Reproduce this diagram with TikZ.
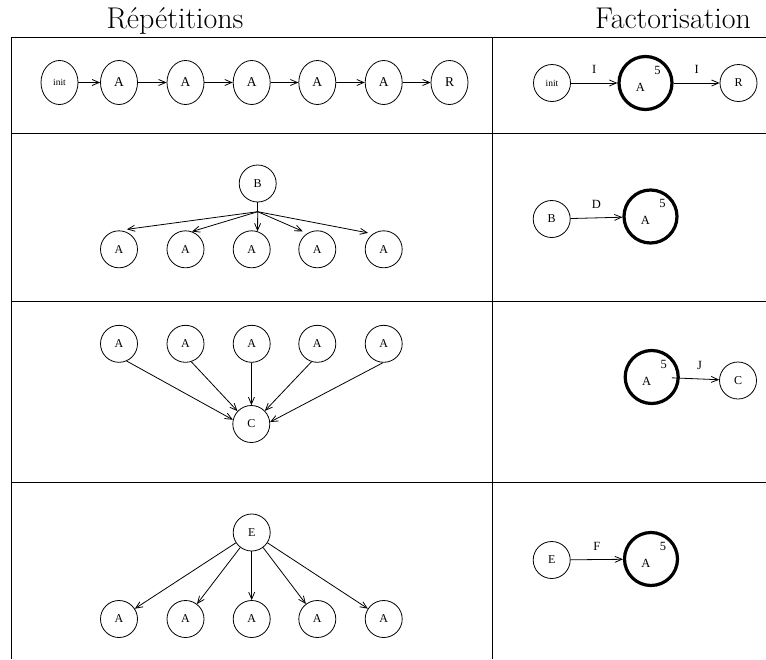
\documentclass[tikz,border=0pt]{standalone}
\usepackage{fontspec}
\usepackage{tikz}
\usetikzlibrary{shapes.geometric, arrows.meta}
\newfontfamily\graphfont{Liberation Serif}

\begin{document}
\begin{tikzpicture}[x=1pt, y=-1pt,
    etat/.style={draw, circle, minimum size=37pt, inner sep=0pt, line width=0.8pt,
                 font=\graphfont\fontsize{12}{12}\selectfont},
    etatl/.style={etat, ellipse, minimum width=37pt, minimum height=44pt,
                  font=\graphfont\fontsize{13.5}{13.5}\selectfont},
    petit/.style={font=\graphfont\fontsize{9.5}{9.5}\selectfont},
    gras/.style={draw, circle, minimum size=53pt, inner sep=0pt, line width=3.2pt},
    lbl/.style={font=\graphfont\fontsize{12.5}{12.5}\selectfont, inner sep=0pt},
    rep/.style={label={[lbl, xshift=-5pt, yshift=-4pt]center:A},
                label={[lbl, xshift=12pt, yshift=13pt]center:#1}},
    etiq/.style={lbl, above=9pt},
    fleche/.style={-{Straight Barb[length=7pt, width=6pt]}, line width=0.8pt},
    titre/.style={anchor=base, font=\fontsize{30}{30}\selectfont},
    cadre/.style={line width=0.9pt}
  ]
    \useasboundingbox (0,0) rectangle (766,659);

    % en-tetes et grille
    \node[titre] (hrep) at (175,28) {Répétitions};
    \node[titre] (hfac) at (673,28) {Factorisation};
    \foreach \y in {37,133,301,482}
      \draw[cadre] (11,\y) -- (766,\y);
    \draw[cadre] (11,37) -- (11,659);
    \draw[cadre] (492,37) -- (492,659);

    % ligne 1 : chaine
    \node[etatl, petit] (init) at (59.5,82.5) {init};
    \node[etatl] (a11) at (119,82.5) {A};
    \node[etatl] (a12) at (185.5,82.5) {A};
    \node[etatl] (a13) at (251.7,82.5) {A};
    \node[etatl] (a14) at (317.3,82.5) {A};
    \node[etatl] (a15) at (383.7,82.5) {A};
    \node[etatl] (r1) at (449.5,82.5) {R};
    \draw[fleche] (init) -- (a11);
    \draw[fleche] (a11) -- (a12);
    \draw[fleche] (a12) -- (a13);
    \draw[fleche] (a13) -- (a14);
    \draw[fleche] (a14) -- (a15);
    \draw[fleche] (a15) -- (r1);

    \node[etat, petit] (finit) at (552,83) {init};
    \node[gras, rep=5] (fa1) at (645.5,83) {};
    \node[etat] (fr1) at (738.5,83) {R};
    \draw[fleche] (finit) -- node[etiq] {I} (fa1);
    \draw[fleche] (fa1) -- node[etiq] {I} (fr1);

    % ligne 2 : B vers les A
    \node[etat] (b2) at (257.7,183.5) {B};
    \coordinate (fk) at (257.7,211.7);
    \node[etat] (a21) at (119,249.3) {A};
    \node[etat] (a22) at (185.5,249.3) {A};
    \node[etat] (a23) at (251.7,249.3) {A};
    \node[etat] (a24) at (317.3,249.3) {A};
    \node[etat] (a25) at (383.7,249.3) {A};
    \draw[line width=0.8pt] (b2) -- (fk);
    \draw[fleche, shorten >=8pt] (fk) -- (a21.north);
    \draw[fleche] (fk) -- (a22.70);
    \draw[fleche] (fk) -- (a23.72);
    \draw[fleche, shorten >=5pt] (fk) -- (a24.122);
    \draw[fleche, shorten >=5pt] (fk) -- (a25.125);

    \node[etat] (fb2) at (551.7,219) {B};
    \node[gras, rep=5] (fa2) at (650.5,216.5) {};
    \draw[fleche] (fb2) -- node[etiq] {D} (fa2);

    % ligne 3 : les A vers C
    \node[etat] (a31) at (119,343.8) {A};
    \node[etat] (a32) at (185.5,343.8) {A};
    \node[etat] (a33) at (251.7,343.8) {A};
    \node[etat] (a34) at (317.3,343.8) {A};
    \node[etat] (a35) at (383.7,343.8) {A};
    \node[etat] (c3) at (251.3,424) {C};
    \draw[fleche] (a31.-66) -- (c3.167);
    \draw[fleche] (a32.-72) -- (c3.137);
    \draw[fleche] (a33) -- (c3);
    \draw[fleche] (a34.-108) -- (c3.44);
    \draw[fleche] (a35.-92) -- (c3.6);

    \node[gras, rep=5] (fa3) at (651.7,377) {};
    \node[etat] (fc3) at (738,380.5) {C};
    \draw[fleche, shorten <=-8pt] (fa3) -- node[etiq] {J} (fc3);

    % ligne 4 : E vers les A
    \node[etat] (e4) at (251.7,532.5) {E};
    \node[etat] (a41) at (119,619) {A};
    \node[etat] (a42) at (185.5,619) {A};
    \node[etat] (a43) at (251.7,619) {A};
    \node[etat] (a44) at (317.3,619) {A};
    \node[etat] (a45) at (383.7,619) {A};
    \foreach \i in {1,...,5}
      \draw[fleche] (e4) -- (a4\i);

    \node[etat] (fe4) at (551.7,560) {E};
    \node[gras, rep=5] (fa4) at (651,559) {};
    \draw[fleche] (fe4) -- node[etiq] {F} (fa4);
  \end{tikzpicture}
\end{document}
